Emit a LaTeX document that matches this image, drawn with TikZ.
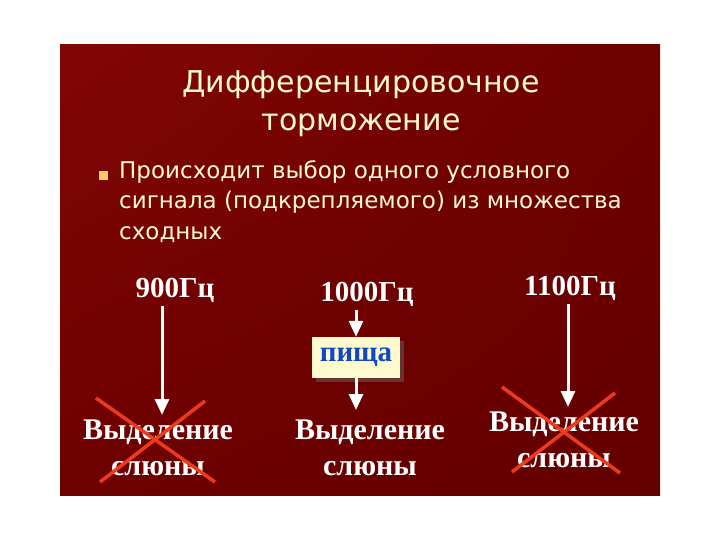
\documentclass[tikz,border=0pt]{standalone}
\usepackage{fontspec}
\setmainfont{Liberation Serif}
\setsansfont{DejaVu Sans}
\usetikzlibrary{arrows.meta,shadings}

\definecolor{slidered}{RGB}{130,6,6}
\definecolor{slidedark}{RGB}{110,0,0}
\definecolor{cream}{RGB}{255,250,205}
\definecolor{bulletcol}{RGB}{255,204,102}
\definecolor{crosscol}{RGB}{238,58,28}
\definecolor{foodblue}{RGB}{16,72,196}

\tikzset{
  headline/.style={font=\sffamily\fontsize{30}{38}\selectfont, text=cream, align=center},
  bodytext/.style={font=\sffamily\fontsize{23}{30.5}\selectfont, text=cream, align=left, anchor=north west, inner sep=0pt},
  freq/.style={font=\rmfamily\bfseries\fontsize{29}{34}\selectfont, text=white},
  result/.style={font=\rmfamily\bfseries\fontsize{30}{36}\selectfont, text=white, align=center},
  arw/.style={draw=white, line width=3pt, -{Triangle[width=14pt,length=16pt]}},
  cross/.style={draw=crosscol, line width=3.5pt}
}

\begin{document}
\begin{tikzpicture}[x=1pt,y=-1pt]

  \useasboundingbox (0,0) rectangle (720,540);
  \fill[white] (0,0) rectangle (720,540);
  \shade[upper left=slidered, upper right=slidedark, lower left=slidedark, lower right=slidedark!90!black] (60,45) rectangle (660,495);

  % title and text
  \node[headline] (title) at (361,104) {Дифференцировочное\\торможение};
  \fill[bulletcol] (99,171) rectangle (108,180);
  \node[bodytext] (body) at (119,160)
    {Происходит выбор одного условного\\сигнала (подкрепляемого) из множества\\сходных};

  % stimuli
  \begin{scope}[every node/.style={freq}]
    \node (f900)  at (175,290) {900Гц};
    \node (f1000) at (367,294) {1000Гц};
    \node (f1100) at (570,288) {1100Гц};
  \end{scope}

  \fill[black!60, opacity=.5] (316,341) rectangle (404,382);
  \node[draw=none, fill=cream, minimum width=88pt, minimum height=41pt, inner sep=0pt,
        font=\rmfamily\bfseries\fontsize{29}{32}\selectfont, text=foodblue] (food) at (356,357.5) {пища};

  % responses
  \begin{scope}[every node/.style={result}]
    \node (s900)  at (158,448) {Выделение\\слюны};
    \node (s1000) at (370,448) {Выделение\\слюны};
    \node (s1100) at (564,440) {Выделение\\слюны};
  \end{scope}

  \coordinate (t900)  at (162,415);
  \coordinate (t1000) at (356,410);
  \coordinate (t1100) at (568,407);

  \path (f900.south -| t900)   edge[arw] (t900);
  \path (f1000.south -| food)  edge[arw] (food.north);
  \path (food.south)           edge[arw] (t1000);
  \path (f1100.south -| t1100) edge[arw] (t1100);

  % crossed out
  \draw[cross] (96,398) -- (215,482);
  \draw[cross] (205,401) -- (100,482);
  \draw[cross] (502,387) -- (620,473);
  \draw[cross] (615,393) -- (512,472);

\end{tikzpicture}
\end{document}
